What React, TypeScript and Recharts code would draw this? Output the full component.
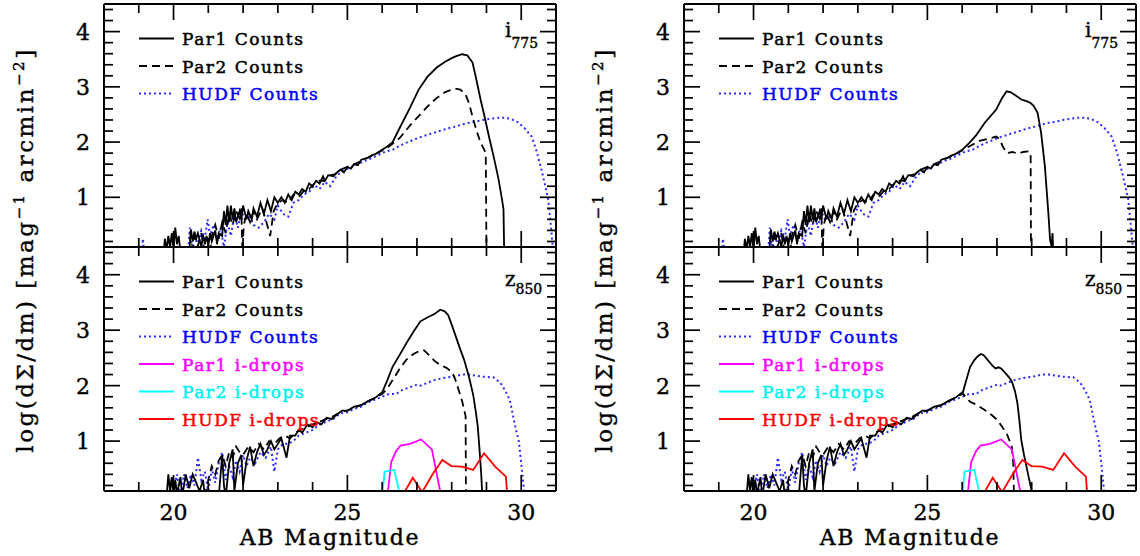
import React from "react";
import { LineChart, Line, XAxis, YAxis } from "recharts";

type Pt = [number, number];

const FONT = '"DejaVu Serif", serif';

// axis ticks
const xTicks = [19, 20, 21, 22, 23, 24, 25, 26, 27, 28, 29, 30];
const xMajorTicks = [20, 25, 30];
const yTicks = [0.2, 0.4, 0.6, 0.8, 1, 1.2, 1.4, 1.6, 1.8, 2, 2.2, 2.4, 2.6, 2.8, 3, 3.2, 3.4, 3.6, 3.8, 4, 4.2, 4.4];

// ---- i775 counts: [AB mag, log dSigma/dm] ----
const par1IFaint: Pt[] = [
  [19.72, 0], [19.75, 0.25], [19.8, 0.05], [19.85, 0.3], [19.9, 0.1], [19.95, 0.35], [20.0, 0.05], [20.05, 0.45],
  [20.1, 0.15], [20.15, 0.3], [20.2, 0], [20.45, 0], [20.5, 0.42], [20.55, 0.2], [20.6, 0.38], [20.65, 0.25],
  [20.7, 0.35], [20.8, 0.1], [20.85, 0.32], [20.9, 0.15], [20.95, 0.3], [21.0, 0.12], [21.05, 0.35], [21.1, 0.2],
  [21.2, 0.4], [21.25, 0.15], [21.3, 0.35], [21.4, 0.3], [21.45, 0.75], [21.5, 0.5], [21.55, 0.85], [21.6, 0.55],
  [21.65, 0.85], [21.7, 0.6], [21.75, 0.8], [21.8, 0.55], [21.9, 0.75], [21.95, 0.6], [22.0, 0.85], [22.1, 0.6],
  [22.15, 0.75], [22.25, 0.6], [22.3, 0.8], [22.4, 0.65], [22.5, 0.9], [22.6, 0.7], [22.7, 0.95], [22.8, 0.75],
  [22.9, 1.0], [23.0, 0.9], [23.1, 1.0], [23.2, 0.9], [23.3, 1.05], [23.4, 0.95], [23.5, 1.1], [23.6, 1.05],
  [23.7, 1.15], [23.8, 1.1], [23.9, 1.25], [24.0, 1.2], [24.1, 1.3], [24.2, 1.25], [24.3, 1.38], [24.35, 1.3],
  [24.45, 1.4], [24.6, 1.38], [24.7, 1.45], [24.8, 1.5], [24.9, 1.45], [25.0, 1.55], [25.1, 1.52], [25.2, 1.6],
  [25.3, 1.58], [25.4, 1.68], [25.5, 1.7], [25.6, 1.72], [25.7, 1.76], [25.8, 1.78], [25.9, 1.82], [26.0, 1.86],
];
const par1IBrightL: Pt[] = [
  [26.15, 1.92], [26.3, 2.0], [26.5, 2.25], [26.8, 2.62], [27.05, 2.95], [27.3, 3.18], [27.57, 3.35], [27.8, 3.45],
  [28.0, 3.52], [28.15, 3.56], [28.3, 3.59], [28.45, 3.57], [28.6, 3.44], [28.72, 3.1], [28.83, 2.77], [28.95, 2.45],
  [29.09, 2.05], [29.22, 1.7], [29.35, 1.32], [29.45, 0.95], [29.49, 0.78], [29.51, 0],
];
const par1IBrightR: Pt[] = [
  [26.2, 1.98], [26.4, 2.12], [26.65, 2.35], [26.98, 2.59], [27.15, 2.8], [27.28, 2.92], [27.4, 2.9], [27.55, 2.84],
  [27.7, 2.77], [27.85, 2.74], [27.96, 2.71], [28.05, 2.66], [28.17, 2.53], [28.27, 2.17], [28.38, 1.56], [28.48, 0.71],
  [28.53, 0.22], [28.57, 0.12], [28.6, 0.35], [28.62, 0],
];
const par2IFaint: Pt[] = [
  [20.55, 0], [20.6, 0.3], [20.7, 0.12], [20.8, 0.35], [20.9, 0], [21.05, 0], [21.1, 0.3], [21.2, 0.5],
  [21.3, 0.25], [21.4, 0.55], [21.5, 0.35], [21.6, 0.7], [21.7, 0.5], [21.8, 0.75], [21.9, 0.62], [21.95, 0.8],
  [21.98, 0], [22.02, 0.5], [22.1, 0.7], [22.2, 0.55], [22.3, 0.75], [22.4, 0.6], [22.55, 0.8], [22.65, 0.6],
  [22.78, 0.3], [22.88, 0.75], [23.0, 0.9], [23.15, 0.95], [23.3, 0.9], [23.45, 1.05], [23.6, 1.0], [23.75, 1.12],
  [23.9, 1.15], [24.05, 1.25], [24.2, 1.3], [24.35, 1.3], [24.5, 1.4], [24.65, 1.42], [24.8, 1.5], [25.0, 1.55],
  [25.2, 1.6], [25.4, 1.66], [25.6, 1.72], [25.8, 1.78], [26.0, 1.85],
];
const par2IBrightL: Pt[] = [
  [26.2, 1.92], [26.5, 2.07], [26.8, 2.3], [27.05, 2.47], [27.3, 2.64], [27.57, 2.8], [27.8, 2.9], [28.0, 2.95],
  [28.1, 2.97], [28.25, 2.95], [28.4, 2.86], [28.5, 2.7], [28.62, 2.41], [28.72, 2.2], [28.83, 1.99], [28.92, 1.88],
  [28.98, 1.8], [29.0, 0],
];
const par2IBrightR: Pt[] = [
  [26.2, 1.92], [26.5, 2.02], [26.75, 2.06], [26.98, 2.1], [27.08, 2.05], [27.17, 1.92], [27.28, 1.8], [27.45, 1.82],
  [27.6, 1.79], [27.75, 1.82], [27.9, 1.83], [27.97, 1.8], [27.98, 0],
];
const hudfI: Pt[] = [
  [19.08, 0], [19.12, 0.25], [19.16, 0], [20.42, 0], [20.47, 0.45], [20.52, 0.12], [20.6, 0.35], [20.7, 0.12],
  [20.8, 0.4], [20.9, 0.25], [20.98, 0.6], [21.05, 0.3], [21.15, 0.5], [21.25, 0.2], [21.35, 0.45], [21.45, 0.1],
  [21.55, 0.55], [21.65, 0.3], [21.75, 0.7], [21.85, 0.45], [21.95, 0.75], [22.05, 0.6], [22.15, 0.7], [22.3, 0.5],
  [22.45, 0.45], [22.6, 0.55], [22.75, 0.7], [22.9, 0.6], [23.0, 0.85], [23.15, 0.7], [23.3, 0.65], [23.45, 0.9],
  [23.6, 0.95], [23.75, 1.05], [23.9, 1.1], [24.05, 1.22], [24.2, 1.15], [24.35, 1.28], [24.5, 1.2], [24.65, 1.35],
  [24.8, 1.45], [24.95, 1.5], [25.1, 1.55], [25.3, 1.6], [25.5, 1.66], [25.7, 1.71], [25.9, 1.77], [26.1, 1.83],
  [26.3, 1.86], [26.5, 1.93], [26.7, 1.99], [26.9, 2.04], [27.1, 2.09], [27.3, 2.13], [27.5, 2.17], [27.7, 2.21],
  [27.9, 2.25], [28.1, 2.28], [28.3, 2.32], [28.5, 2.35], [28.7, 2.37], [28.9, 2.4], [29.1, 2.42], [29.3, 2.44],
  [29.5, 2.44], [29.7, 2.42], [29.9, 2.36], [30.1, 2.25], [30.3, 2.1], [30.45, 1.82], [30.6, 1.45], [30.7, 1.18],
  [30.78, 0.95], [30.85, 0.5], [30.9, 0.15], [30.93, 0],
];

// ---- z850 counts ----
const par1ZFaint: Pt[] = [
  [19.8, 0], [19.85, 0.4], [19.9, 0.1], [19.95, 0.35], [20.0, 0], [20.05, 0.3], [20.1, 0.05], [20.2, 0.35],
  [20.25, 0], [20.35, 0.4], [20.45, 0.15], [20.55, 0.4], [20.65, 0.25], [20.75, 0.1], [20.85, 0.3], [20.9, 0],
  [21.3, 0], [21.4, 0.75], [21.45, 0.2], [21.5, 0], [21.6, 0.6], [21.7, 0.85], [21.75, 0.1], [21.85, 0.6],
  [21.95, 0.75], [22.0, 0.2], [22.1, 0.65], [22.2, 0.9], [22.3, 0.55], [22.4, 0.8], [22.5, 0.95], [22.6, 0.75],
  [22.7, 0.85], [22.8, 1.0], [22.9, 0.85], [23.0, 0.95], [23.1, 1.05], [23.25, 0.7], [23.35, 1.1], [23.5, 1.1],
  [23.6, 1.2], [23.7, 1.15], [23.85, 1.3], [24.0, 1.25], [24.1, 1.35], [24.25, 1.3], [24.4, 1.42], [24.55, 1.4],
  [24.7, 1.48], [24.85, 1.55], [25.0, 1.55], [25.2, 1.62], [25.4, 1.65], [25.6, 1.72], [25.8, 1.78], [26.0, 1.88],
];
const par1ZBrightL: Pt[] = [
  [26.05, 1.95], [26.15, 2.1], [26.3, 2.34], [26.5, 2.55], [26.7, 2.77], [26.9, 2.97], [27.1, 3.16], [27.3, 3.23],
  [27.5, 3.29], [27.67, 3.37], [27.8, 3.34], [27.9, 3.27], [28.0, 3.1], [28.15, 2.83], [28.25, 2.65], [28.36, 2.46],
  [28.5, 2.15], [28.62, 1.83], [28.7, 1.5], [28.75, 1.26], [28.8, 0.85], [28.85, 0.4], [28.88, 0],
];
const par1ZBrightR: Pt[] = [
  [26.02, 1.88], [26.12, 2.1], [26.23, 2.34], [26.35, 2.46], [26.45, 2.53], [26.54, 2.57], [26.62, 2.55], [26.75, 2.45],
  [26.87, 2.36], [26.96, 2.31], [27.05, 2.33], [27.12, 2.31], [27.25, 2.22], [27.35, 2.15], [27.43, 2.07], [27.52, 1.9],
  [27.59, 1.68], [27.65, 1.35], [27.7, 1.02], [27.78, 0.75], [27.85, 0.54], [27.93, 0.3], [28.0, 0.1], [28.02, 0],
];
const par2ZFaint: Pt[] = [
  [20.9, 0], [21.0, 0.3], [21.1, 0.55], [21.2, 0.4], [21.3, 0.65], [21.4, 0.75], [21.5, 0.55], [21.6, 0.8],
  [21.7, 0.7], [21.8, 0.9], [21.9, 0.8], [22.0, 0.75], [22.15, 0.9], [22.3, 0.8], [22.45, 0.95], [22.6, 0.85],
  [22.75, 1.0], [22.9, 0.95], [23.05, 1.05], [23.2, 1.1], [23.35, 1.05], [23.5, 1.15], [23.65, 1.2], [23.8, 1.25],
  [24.0, 1.3], [24.2, 1.35], [24.4, 1.4], [24.6, 1.45], [24.8, 1.52], [25.0, 1.55], [25.2, 1.6], [25.4, 1.65],
  [25.6, 1.72], [25.8, 1.78], [26.0, 1.85],
];
const par2ZBrightL: Pt[] = [
  [26.15, 1.95], [26.3, 2.1], [26.5, 2.3], [26.7, 2.47], [26.9, 2.57], [27.05, 2.62], [27.2, 2.64], [27.35, 2.55],
  [27.5, 2.45], [27.65, 2.38], [27.85, 2.32], [28.0, 2.25], [28.1, 2.12], [28.2, 1.92], [28.3, 1.72], [28.36, 1.56],
  [28.4, 1.45], [28.41, 0],
];
const par2ZBrightR: Pt[] = [
  [26.02, 1.86], [26.12, 1.78], [26.23, 1.71], [26.4, 1.66], [26.65, 1.56], [26.85, 1.47], [27.01, 1.38], [27.15, 1.26],
  [27.28, 1.14], [27.38, 0.98], [27.43, 0.9], [27.47, 0.6], [27.49, 0],
];
const hudfZ: Pt[] = [
  [19.9, 0], [19.95, 0.35], [20.0, 0.1], [20.1, 0.4], [20.2, 0], [20.3, 0.4], [20.4, 0.15], [20.5, 0.4],
  [20.6, 0.2], [20.7, 0.7], [20.8, 0.3], [20.9, 0.45], [21.0, 0.1], [21.1, 0.5], [21.2, 0.25], [21.3, 0.6],
  [21.4, 0.8], [21.5, 0.3], [21.6, 0.55], [21.7, 0.35], [21.8, 0.65], [21.9, 0.45], [22.0, 0.75], [22.1, 0.55],
  [22.2, 0.7], [22.35, 0.6], [22.5, 0.8], [22.65, 0.7], [22.8, 0.9], [22.9, 0.45], [23.0, 0.85], [23.15, 0.95],
  [23.3, 0.95], [23.45, 1.0], [23.6, 1.1], [23.8, 1.15], [24.0, 1.2], [24.2, 1.3], [24.4, 1.35], [24.6, 1.4],
  [24.8, 1.5], [25.0, 1.52], [25.2, 1.58], [25.4, 1.62], [25.6, 1.7], [25.8, 1.75], [26.0, 1.8], [26.2, 1.85],
  [26.4, 1.85], [26.6, 1.93], [26.8, 1.97], [27.0, 2.02], [27.1, 2.0], [27.3, 2.05], [27.5, 2.1], [27.7, 2.13],
  [27.9, 2.15], [28.1, 2.17], [28.3, 2.2], [28.5, 2.2], [28.7, 2.18], [28.9, 2.16], [29.2, 2.15], [29.4, 2.05],
  [29.55, 1.9], [29.67, 1.74], [29.75, 1.5], [29.85, 1.2], [29.93, 1.0], [30.0, 0.6], [30.05, 0.3], [30.1, 0],
];

// ---- i-dropouts (z850 panels) ----
const par1Drops: Pt[] = [[26.15, 0], [26.26, 0.62], [26.4, 0.82], [26.53, 0.92], [26.8, 0.95], [27.12, 1.03], [27.43, 0.85], [27.7, 0]];
const par2Drops: Pt[] = [[26.0, 0], [26.07, 0.45], [26.35, 0.48], [26.52, 0]];
const hudfDrops: Pt[] = [
  [26.57, 0], [26.88, 0.34], [27.15, 0.08], [27.46, 0.41], [27.73, 0.66], [27.99, 0.55], [28.3, 0.54],
  [28.62, 0.48], [28.93, 0.78], [29.25, 0.54], [29.56, 0.36], [29.6, 0],
];

const seriesStyle: Record<string, { stroke: string; text: string; dash?: string; width: number }> = {
  par1: { stroke: "#000000", text: "#000000", width: 1.8 },
  par2: { stroke: "#000000", text: "#000000", dash: "8 5", width: 1.8 },
  hudf: { stroke: "#2a2aff", text: "#0000ff", dash: "2 3", width: 2 },
  par1Drop: { stroke: "#ff00ff", text: "#ff00ff", width: 1.8 },
  par2Drop: { stroke: "#00ffff", text: "#00f0f0", width: 1.8 },
  hudfDrop: { stroke: "#ff0000", text: "#ff0000", width: 1.8 },
};

const countLegend = [
  { key: "par1", label: "Par1 Counts" },
  { key: "par2", label: "Par2 Counts" },
  { key: "hudf", label: "HUDF Counts" },
];
const dropLegend = [
  { key: "par1Drop", label: "Par1 i-drops" },
  { key: "par2Drop", label: "Par2 i-drops" },
  { key: "hudfDrop", label: "HUDF i-drops" },
];

const rows = (pts: Pt[]) => pts.map(([m, v]) => ({ m, v }));

// slightly heavier glyphs, like the original plot font
const heavy = (color: string, w = 0.5) => ({ fill: color, stroke: color, strokeWidth: w });

const XTick = (props: any) => {
  const { x, y, payload, side, showLabel } = props;
  const major = xMajorTicks.includes(payload.value);
  const len = major ? 16 : 9;
  const y2 = side === "top" ? y + len : y - len;
  return (
    <g>
      <line x1={x} y1={y} x2={x} y2={y2} stroke="#000" strokeWidth={1.7} />
      {showLabel && major ? (
        <text x={x} y={y + 29} textAnchor="middle" fontFamily={FONT} fontSize={22} {...heavy("#000", 0.4)}>
          {payload.value}
        </text>
      ) : null}
    </g>
  );
};

const YTick = (props: any) => {
  const { x, y, payload, side } = props;
  const v = payload.value;
  const major = Math.abs(v - Math.round(v)) < 1e-6;
  const len = major ? 16 : 9;
  const x2 = side === "left" ? x + len : x - len;
  return (
    <g>
      <line x1={x} y1={y} x2={x2} y2={y} stroke="#000" strokeWidth={1.7} />
      {side === "left" && major ? (
        <text x={x - 14} y={y + 8} textAnchor="end" fontFamily={FONT} fontSize={22} {...heavy("#000", 0.4)}>
          {Math.round(v)}
        </text>
      ) : null}
    </g>
  );
};

type Series = { key: string; pts: Pt[] };

function Panel({ left, top, bottomPanel, series, legend, band, sub }: {
  left: number; top: number; bottomPanel: boolean; series: Series[];
  legend: { key: string; label: string }[]; band: string; sub: string;
}) {
  const W = 500;
  const H = bottomPanel ? 308 : 251;
  const axisLine = { stroke: "#000", strokeWidth: 2 };
  return (
    <div style={{ position: "absolute", left, top, width: W, height: H }}>
      <LineChart width={W} height={H} margin={{ top: 0, right: 0, bottom: 0, left: 0 }}>
        <XAxis dataKey="m" type="number" domain={[18, 31]} ticks={xTicks} interval={0} allowDataOverflow
          height={bottomPanel ? 60 : 4} tickSize={0} tickMargin={0} tickLine={false} axisLine={axisLine}
          tick={<XTick side="bottom" showLabel={bottomPanel} />} />
        <XAxis xAxisId="top" orientation="top" dataKey="m" type="number" domain={[18, 31]} ticks={xTicks}
          interval={0} allowDataOverflow height={4} tickSize={0} tickMargin={0} tickLine={false}
          axisLine={axisLine} tick={<XTick side="top" />} />
        <YAxis type="number" domain={[0.1, 4.5]} ticks={yTicks} interval={0} allowDataOverflow width={44}
          tickSize={0} tickMargin={0} tickLine={false} axisLine={axisLine} tick={<YTick side="left" />} />
        <YAxis yAxisId="right" orientation="right" type="number" domain={[0.1, 4.5]} ticks={yTicks} interval={0}
          allowDataOverflow width={4} tickSize={0} tickMargin={0} tickLine={false} axisLine={axisLine}
          tick={<YTick side="right" />} />
        {series.map((s) => {
          const st = seriesStyle[s.key];
          return (
            <Line key={s.key} data={rows(s.pts)} dataKey="v" type="linear" stroke={st.stroke}
              strokeWidth={st.width} strokeDasharray={st.dash} dot={false} activeDot={false}
              isAnimationActive={false} />
          );
        })}
      </LineChart>
      <svg width={W} height={H} style={{ position: "absolute", left: 0, top: 0, pointerEvents: "none" }}>
        {legend.map((item, i) => {
          const st = seriesStyle[item.key];
          const cy = 38.5 + i * 27.5;
          return (
            <g key={item.key}>
              <line x1={79} x2={114} y1={cy} y2={cy} stroke={st.stroke} strokeWidth={st.width}
                strokeDasharray={st.dash} />
              <text x={122} y={cy + 6.5} fontFamily={FONT} fontSize={17} letterSpacing={1.5} {...heavy(st.text)}>
                {item.label}
              </text>
            </g>
          );
        })}
        <text x={445} y={bottomPanel ? 43 : 37} fontFamily={FONT} fontSize={20} {...heavy("#000", 0.4)}>
          {band}
          <tspan dy={bottomPanel ? 8 : 11} fontSize={14}>{sub}</tspan>
        </text>
        {bottomPanel ? (
          <text x={270} y={302} textAnchor="middle" fontFamily={FONT} fontSize={22} letterSpacing={1.7}
            {...heavy("#000", 0.4)}>
            AB Magnitude
          </text>
        ) : null}
      </svg>
    </div>
  );
}

const YTitle = ({ x }: { x: number }) => (
  <text transform={`translate(${x},250) rotate(-90)`} textAnchor="middle" fontFamily={FONT} fontSize={23}
    letterSpacing={2.5} {...heavy("#000", 0.4)}>
    log(dΣ/dm) [mag<tspan dy={-9} fontSize={15}>−1</tspan><tspan dy={9}> arcmin</tspan>
    <tspan dy={-9} fontSize={15}>−2</tspan><tspan dy={9}>]</tspan>
  </text>
);

export default function App() {
  const topL: Series[] = [
    { key: "hudf", pts: hudfI },
    { key: "par2", pts: [...par2IFaint, ...par2IBrightL] },
    { key: "par1", pts: [...par1IFaint, ...par1IBrightL] },
  ];
  const topR: Series[] = [
    { key: "hudf", pts: hudfI },
    { key: "par2", pts: [...par2IFaint, ...par2IBrightR] },
    { key: "par1", pts: [...par1IFaint, ...par1IBrightR] },
  ];
  const drops: Series[] = [
    { key: "par1Drop", pts: par1Drops },
    { key: "par2Drop", pts: par2Drops },
    { key: "hudfDrop", pts: hudfDrops },
  ];
  const botL: Series[] = [
    { key: "hudf", pts: hudfZ },
    { key: "par2", pts: [...par2ZFaint, ...par2ZBrightL] },
    { key: "par1", pts: [...par1ZFaint, ...par1ZBrightL] },
    ...drops,
  ];
  const botR: Series[] = [
    { key: "hudf", pts: hudfZ },
    { key: "par2", pts: [...par2ZFaint, ...par2ZBrightR] },
    { key: "par1", pts: [...par1ZFaint, ...par1ZBrightR] },
    ...drops,
  ];
  const fullLegend = [...countLegend, ...dropLegend];
  return (
    <div style={{ position: "absolute", left: 0, top: 0, width: 1140, height: 556, background: "#fff" }}>
      <Panel left={60} top={0} bottomPanel={false} series={topL} legend={countLegend} band="i" sub="775" />
      <Panel left={60} top={243} bottomPanel series={botL} legend={fullLegend} band="z" sub="850" />
      <Panel left={640} top={0} bottomPanel={false} series={topR} legend={countLegend} band="i" sub="775" />
      <Panel left={640} top={243} bottomPanel series={botR} legend={fullLegend} band="z" sub="850" />
      <svg width={1140} height={556} style={{ position: "absolute", left: 0, top: 0, pointerEvents: "none" }}>
        <YTitle x={33} />
        <YTitle x={612} />
      </svg>
    </div>
  );
}
